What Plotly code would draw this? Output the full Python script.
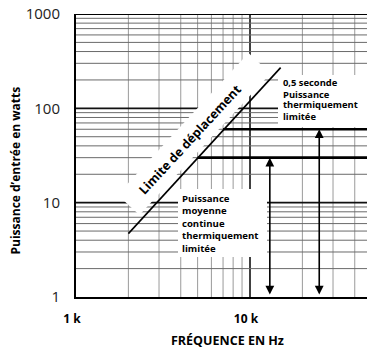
import math
import plotly.graph_objects as go

# ---------------- data ----------------
disp_freq = [2000, 15000]          # displacement limit (slope ~ f^2)
disp_power = [4.7, 270]
cont_freq = [5000, 50000]          # continuous average thermal limit
cont_power = [30, 30]
short_freq = [7000, 50000]         # 0.5 s thermal limit
short_power = [60, 60]
arrow_freq = [13000, 25000]
arrow_top = [30, 60]
arrow_bottom = [1, 1]
x_tick_vals = [1000, 10000]
x_tick_text = ["1 k", "10 k"]
y_tick_vals = [1, 10, 100, 1000]
y_tick_text = ["1", "10", "100", "1000"]

label_disp = "Limite de déplacement"
label_cont = "Puissance<br>moyenne<br>continue<br>thermiquement<br>limitée"
label_short = ["0,5 seconde", "Puissance", "thermiquement", "limitée"]
x_title = "FRÉQUENCE EN Hz"
y_title = "Puissance d\u2019entrée en watts"

# ---------------- layout geometry ----------------
W, H = 367, 348
L, R, T, B = 76, 0, 14, 51
X_DECADE = 174
x_range = [3, 3 + (W - L - R) / X_DECADE]
y_range = [0, 3]
FONT = "Open Sans"


def p2p(px, py):
    """pixel -> paper coordinates"""
    return (px - L) / (W - L - R), (H - B - py) / (H - T - B)


fig = go.Figure()

# main lines
fig.add_trace(go.Scatter(x=disp_freq, y=disp_power, mode="lines",
                         line=dict(color="black", width=1.6), hoverinfo="skip"))
fig.add_trace(go.Scatter(x=cont_freq, y=cont_power, mode="lines",
                         line=dict(color="black", width=2.6), hoverinfo="skip"))
fig.add_trace(go.Scatter(x=short_freq, y=short_power, mode="lines",
                         line=dict(color="black", width=2.6), hoverinfo="skip"))

shapes = []
# vertical grid
for dec in range(3, 6):
    for k in range(1, 10):
        v = k * 10 ** dec
        lv = math.log10(v)
        if lv <= x_range[0] + 1e-9 or lv > x_range[1]:
            continue
        major = (k == 1)
        shapes.append(dict(type="line", xref="x", yref="paper", x0=v, x1=v, y0=0, y1=1,
                           layer="below",
                           line=dict(color="#111" if major else "#9a9a9a",
                                     width=1.6 if major else 1)))
# horizontal grid
for dec in range(0, 3):
    for k in range(1, 10):
        v = k * 10 ** dec
        if v == 1:
            continue
        major = (k == 1)
        shapes.append(dict(type="line", xref="paper", yref="y", x0=0, x1=1, y0=v, y1=v,
                           layer="below",
                           line=dict(color="#111" if major else "#6a6a6a",
                                     width=1.6 if major else 1)))
# top border
shapes.append(dict(type="line", xref="paper", yref="y", x0=0, x1=1, y0=1000, y1=1000,
                   layer="below", line=dict(color="black", width=2)))

# white boxes behind the labels
sx, sy = 126.7, 233.3
ex, ey = 280.0, 67.7
ln = math.hypot(ex - sx, ey - sy)
ux, uy = (ex - sx) / ln, (ey - sy) / ln
nx, ny = uy, -ux  # perpendicular pointing to upper-left
if nx > 0:
    nx, ny = -nx, -ny


def along(s, n):
    return sx + ux * s + nx * n, sy + uy * s + ny * n


corners = [along(22, 3), along(215, 3), along(215, 33), along(22, 33)]
path = ""
for i, (cx, cy) in enumerate(corners):
    px_, py_ = p2p(cx, cy)
    path += ("M" if i == 0 else "L") + f"{px_:.5f},{py_:.5f} "
path += "Z"
shapes.append(dict(type="path", xref="paper", yref="paper", path=path, layer="between",
                   fillcolor="white", line=dict(width=0)))

for (x0, y0, x1, y1) in [(178, 189, 267, 257), (278, 75, 368, 127)]:
    a0 = p2p(x0, y1)
    a1 = p2p(x1, y0)
    shapes.append(dict(type="rect", xref="paper", yref="paper", x0=a0[0], y0=a0[1],
                       x1=a1[0], y1=a1[1], layer="between",
                       fillcolor="white", line=dict(width=0)))

annotations = []
# rotated displacement label
cx, cy = along(112, 17.5)
px_, py_ = p2p(cx, cy)
ang = math.degrees(math.atan2(uy, ux))
annotations.append(dict(xref="paper", yref="paper", x=px_, y=py_, text=label_disp,
                        showarrow=False, textangle=ang, xanchor="center", yanchor="middle",
                        font=dict(family=FONT, size=12.5, color="black", weight="bold")))
# continuous label
px_, py_ = p2p(180, 223.7)
annotations.append(dict(xref="paper", yref="paper", x=px_, y=py_, text=label_cont,
                        showarrow=False, xanchor="left", yanchor="middle", align="left",
                        font=dict(family=FONT, size=9.6, color="black", weight="bold")))
# 0.5 s label, one line each
for i, t in enumerate(label_short):
    px_, py_ = p2p(280.5, 83 + i * 11)
    annotations.append(dict(xref="paper", yref="paper", x=px_, y=py_, text=t,
                            showarrow=False, xanchor="left", yanchor="middle", align="left",
                            font=dict(family=FONT, size=9.4, color="black", weight="bold")))
# double arrows
for f, top, bot in zip(arrow_freq, arrow_top, arrow_bottom):
    annotations.append(dict(xref="x", yref="y", axref="x", ayref="y",
                            x=math.log10(f), y=math.log10(top),
                            ax=math.log10(f), ay=math.log10(bot) + 0.01,
                            text="", showarrow=True, arrowside="end+start",
                            arrowhead=2, startarrowhead=2, arrowsize=1.1, startarrowsize=1.1,
                            arrowwidth=1.6, arrowcolor="black", standoff=0, startstandoff=0))
# axis titles
px_, py_ = p2p(15, 170.5)
annotations.append(dict(xref="paper", yref="paper", x=px_, y=py_, text=y_title,
                        showarrow=False, textangle=-90, xanchor="center", yanchor="middle",
                        font=dict(family=FONT, size=12, color="black", weight="bold")))
px_, py_ = p2p(227, 340)
annotations.append(dict(xref="paper", yref="paper", x=px_, y=py_, text=x_title,
                        showarrow=False, xanchor="center", yanchor="middle",
                        font=dict(family=FONT, size=12.5, color="black", weight="bold")))

fig.update_layout(
    width=W, height=H,
    margin=dict(l=L, r=R, t=T, b=B, pad=0),
    paper_bgcolor="white", plot_bgcolor="white",
    showlegend=False,
    shapes=shapes, annotations=annotations,
    xaxis=dict(type="log", range=x_range, showgrid=False, zeroline=False,
               showline=True, linecolor="black", linewidth=2,
               tickmode="array", tickvals=x_tick_vals, ticktext=x_tick_text,
               ticks="", ticklabelstandoff=10, ticklabelshift=-4,
               tickfont=dict(family=FONT, size=12, color="black", weight="bold")),
    yaxis=dict(type="log", range=y_range, showgrid=False, zeroline=False,
               showline=True, linecolor="black", linewidth=2,
               tickmode="array", tickvals=y_tick_vals, ticktext=y_tick_text,
               ticks="", ticklabelstandoff=11,
               tickfont=dict(family=FONT, size=15, color="#222")),
)

fig.write_html("out.html", config={"displayModeBar": False},
               post_script="document.body.style.margin='0';document.body.style.overflow='hidden';")
